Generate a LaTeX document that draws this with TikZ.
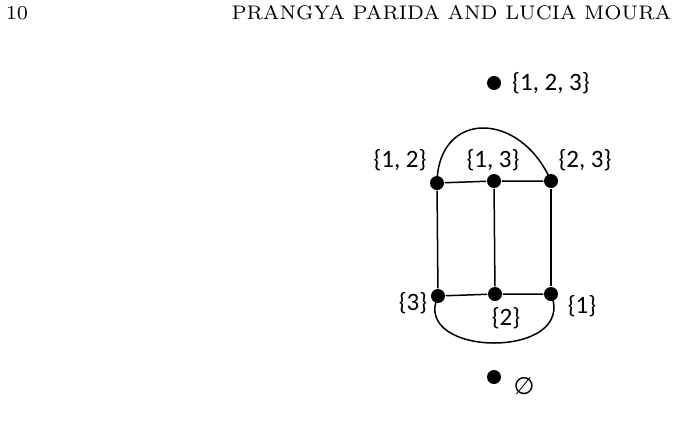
\documentclass[tikz,border=0pt]{standalone}
\usepackage{fontspec}
\newfontfamily\setfont{Carlito}
\newfontfamily\symfont{DejaVu Sans}
\newfontfamily\headfont{lmroman7-regular.otf}
\usetikzlibrary{positioning}

\begin{document}
\begin{tikzpicture}[x=1pt, y=-1pt, line width=1.5pt,
    vertex/.style={circle, fill, inner sep=0pt, minimum size=14pt},
    setlabel/.style={font=\setfont\fontsize{25}{28}\selectfont, inner sep=0pt},
    headline/.style={font=\headfont\fontsize{19.7}{23}\selectfont, inner sep=0pt}]
        \useasboundingbox (0,0) rectangle (681,432);
        % running head
        \node[headline, anchor=west] (pageno) at (5,13) {10};
        \node[headline, anchor=east] (runhead) at (672,13) {PRANGYA PARIDA AND LUCIA MOURA};
        % isolated vertices
        \node[vertex] (v123) at (494,83) {}; \node[setlabel] (l123) at (551,83) {\{1, 2, 3\}};
        \node[vertex] (v0) at (494,377) {}; \node[font=\symfont\fontsize{24}{26}\selectfont, inner sep=0pt] (l0) at (524,386) {∅};
        % top row
        \node[vertex] (v12) at (437,183) {}; \node[setlabel] (l12) at (400,160) {\{1, 2\}};
        \node[vertex] (v13) at (494,181) {}; \node[setlabel] (l13) at (493,160) {\{1, 3\}};
        \node[vertex] (v23) at (551,181) {}; \node[setlabel] (l23) at (585,160) {\{2, 3\}};
        % bottom row
        \node[vertex] (v3) at (438,296) {}; \node[setlabel] (l3) at (413,303) {\{3\}};
        \node[vertex] (v2) at (495,294) {}; \node[setlabel] (l2) at (506,318) {\{2\}};
        \node[vertex] (v1) at (551,294) {}; \node[setlabel] (l1) at (582,306) {\{1\}};
        % edges
        \draw (v12) -- (v13) -- (v23);
        \draw (v3) -- (v2) -- (v1);
        \draw (v12) -- (v3); \draw (v13) -- (v2); \draw (v23) -- (v1);
        \draw (v12.center) .. controls (438,110) and (520,110) .. (v23.center);
        \draw (v3.center) .. controls (410,358) and (578,360) .. (v1.center);
    \end{tikzpicture}
\end{document}
